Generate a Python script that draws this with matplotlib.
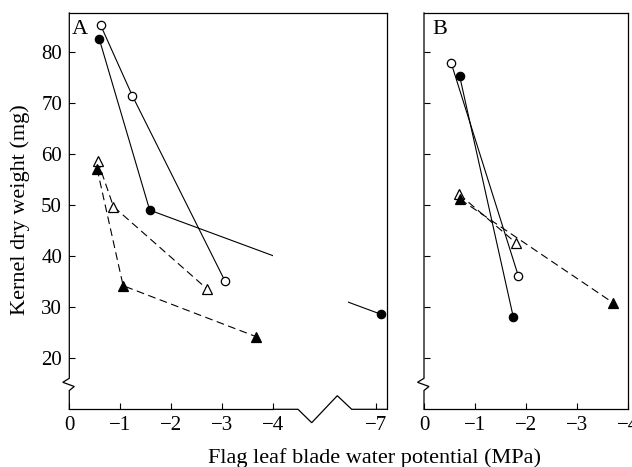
"""
Kernel dry weight vs flag leaf blade water potential, panels A and B.
"""

import matplotlib
import matplotlib.pyplot as plt
from matplotlib.lines import Line2D

matplotlib.use("Agg")  # Non-interactive backend

plt.rcParams["font.family"] = ["Liberation Serif", "DejaVu Serif"]

# Panel A
a_open_circle_x = [-0.62, -1.24, -3.05]
a_open_circle_y = [85.2, 71.4, 35.2]
a_filled_circle_x = [-0.59, -1.58, -7.1]
a_filled_circle_y = [82.6, 49.0, 28.6]
a_open_tri_x = [-0.56, -0.87, -2.71]
a_open_tri_y = [58.7, 49.7, 33.5]
a_filled_tri_x = [-0.55, -1.06, -3.67]
a_filled_tri_y = [57.1, 34.2, 24.2]

# Panel B
b_open_circle_x = [-0.53, -1.85]
b_open_circle_y = [77.9, 36.1]
b_filled_circle_x = [-0.70, -1.75]
b_filled_circle_y = [75.2, 28.1]
b_open_tri_x = [-0.69, -1.80]
b_open_tri_y = [52.1, 42.6]
b_filled_tri_x = [-0.71, -3.70]
b_filled_tri_y = [51.1, 30.9]

y_ticks = [20, 30, 40, 50, 60, 70, 80]
x_ticks = [0, -1, -2, -3, -4]
x_tick_labels = ["0", "\u22121", "\u22122", "\u22123", "\u22124"]
x_far_ticks = [-7]
x_far_labels = ["\u22127"]

W, H = 632, 467
LW = 0.9
FS = 15        # tick labels
FS_LABEL = 16  # axis labels


def fx(px):
    return px / W


def fy(py):
    return 1 - py / H


def fig_line(fig, pts):
    """Draw a decoration polyline given in pixel coordinates."""
    xs = [fx(p[0]) for p in pts]
    ys = [fy(p[1]) for p in pts]
    fig.add_artist(Line2D(xs, ys, color="k", lw=LW, transform=fig.transFigure,
                          solid_joinstyle="miter"))


def draw_series(ax, x, y, marker, filled, dashed):
    style = dict(color="k", lw=0.8, marker=marker, ms=6.5 if marker == "^" else 6,
                 mec="k", mew=0.9, mfc="k" if filled else "white")
    line, = ax.plot(x, y, **style)
    if dashed:
        line.set_dashes((7, 4))


def style_axes(ax):
    ax.set_ylim(10, 87.6)
    for side in ("left", "top", "right"):
        ax.spines[side].set_visible(False)
    ax.spines["bottom"].set_linewidth(LW)
    ax.tick_params(direction="in", length=4.5, width=0.8, labelsize=FS,
                   top=False, right=False)
    ax.tick_params(axis="x", pad=4.5)
    ax.tick_params(axis="y", pad=5)


fig = plt.figure(figsize=(6.32, 4.67), dpi=100)

top, bottom = 13.0, 409.3
hgt = (bottom - top) / H

ax_a = fig.add_axes([fx(69), fy(bottom), (273.3 - 69) / W, hgt])
ax_a2 = fig.add_axes([fx(348), fy(bottom), (387 - 348) / W, hgt])
ax_b = fig.add_axes([fx(424), fy(bottom), (628 - 424) / W, hgt])

for ax in (ax_a, ax_a2):
    draw_series(ax, a_open_circle_x, a_open_circle_y, "o", False, False)
    draw_series(ax, a_filled_circle_x, a_filled_circle_y, "o", True, False)
    draw_series(ax, a_open_tri_x, a_open_tri_y, "^", False, True)
    draw_series(ax, a_filled_tri_x, a_filled_tri_y, "^", True, True)

draw_series(ax_b, b_open_circle_x, b_open_circle_y, "o", False, False)
draw_series(ax_b, b_filled_circle_x, b_filled_circle_y, "o", True, False)
draw_series(ax_b, b_open_tri_x, b_open_tri_y, "^", False, True)
draw_series(ax_b, b_filled_tri_x, b_filled_tri_y, "^", True, True)

for ax in (ax_a, ax_a2, ax_b):
    style_axes(ax)

ax_a.set_xlim(0, -4)
ax_a.set_xticks(x_ticks)
ax_a.set_xticklabels(x_tick_labels)
ax_a.set_yticks(y_ticks)
ax_a.set_yticklabels([str(v) for v in y_ticks])

ax_a2.set_xlim(-6.451, -7.216)
ax_a2.set_xticks(x_far_ticks)
ax_a2.set_xticklabels(x_far_labels)
ax_a2.set_yticks([])
ax_a2.spines["bottom"].set_visible(False)
ax_a2.spines["right"].set_visible(True)
ax_a2.spines["right"].set_linewidth(LW)

ax_b.set_xlim(0, -4)
ax_b.set_xticks(x_ticks)
ax_b.set_xticklabels(x_tick_labels)
ax_b.set_yticks(y_ticks)
ax_b.set_yticklabels([])
ax_b.spines["top"].set_visible(True)
ax_b.spines["right"].set_visible(True)
ax_b.spines["top"].set_linewidth(LW)
ax_b.spines["right"].set_linewidth(LW)

# top frame of panel A (continuous across the break)
fig_line(fig, [(69, top), (387, top)])

# broken bottom axis of panel A
fig_line(fig, [(273.3, bottom), (298, bottom), (311.7, 422.7), (337.3, 395.7),
               (351.7, bottom), (387, bottom)])

# y-axis breaks
for x0 in (69.3, 424):
    fig_line(fig, [(x0, top), (x0, 378.3), (x0 - 6.5, 382.3), (x0 + 5, 386.5),
                   (x0, 390.5), (x0, bottom)])

fig.text(fx(72), fy(34), "A", fontsize=16, ha="left", va="baseline")
fig.text(fx(432), fy(34), "B", fontsize=16, ha="left", va="baseline")
fig.text(fx(374), fy(463), "Flag leaf blade water potential (MPa)",
         fontsize=FS_LABEL, ha="center", va="baseline")
fig.text(fx(20), fy(210), "Kernel dry weight (mg)", fontsize=FS_LABEL,
         rotation=90, ha="center", va="center")

fig.savefig("out.png", dpi=100)
plt.close(fig)
